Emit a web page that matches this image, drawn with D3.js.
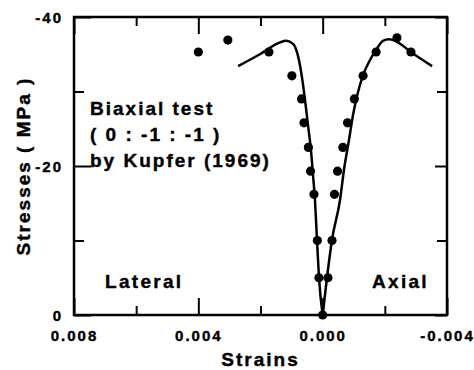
<!DOCTYPE html>
<html>
<head>
<meta charset="utf-8">
<script src="https://cdn.jsdelivr.net/npm/d3@7"></script>
<style>
  body { margin: 0; background: #fff; }
  text { font-family: "Liberation Sans", Arial, sans-serif; font-weight: bold; fill: #000; stroke: #000; stroke-width: 0.4px; }
</style>
</head>
<body>
<div id="vis"></div>
<script>
// measured points (Kupfer 1969), strain / stress in MPa
var latStrain = [0.0040, 0.00305, 0.00173, 0.00099, 0.00068, 0.00060, 0.00046, 0.00039, 0.00028, 0.00017, 0.00012, 0.0];
var latStress = [-35.3, -36.9, -35.3, -32.1, -29.0, -25.8, -22.5, -19.3, -16.2, -10.0, -5.0, 0.0];
var axStrain = [-0.00017, -0.00030, -0.00038, -0.00048, -0.00065, -0.00080, -0.00102, -0.00130, -0.00172, -0.00239, -0.00284];
var axStress = [-5.0, -10.0, -16.2, -19.3, -22.5, -25.8, -29.0, -32.1, -35.3, -37.2, -35.3];

// model curves
var latCurveStrain = [0.00272, 0.00202, 0.00137, 0.00118, 0.00102, 0.00089, 0.000762, 0.000665, 0.000569, 0.000472, 0.000376, 0.000311, 0.000247, 0.000183, 0.000118, 0.0];
var latCurveStress = [-33.4, -35.0, -36.6, -36.8, -36.6, -36.0, -34.2, -31.9, -28.9, -25.5, -22.1, -18.8, -15.4, -10.1, -5.0, 0.0];
var axCurveStrain = [0.0, -0.000139, -0.000300, -0.000557, -0.000686, -0.000847, -0.000975, -0.00110, -0.00130, -0.00152, -0.00175, -0.00194, -0.00213, -0.00233, -0.00287, -0.00352];
var axCurveStress = [0.0, -5.0, -10.1, -15.4, -19.5, -23.5, -26.8, -29.3, -32.2, -34.2, -35.8, -36.8, -37.0, -36.8, -35.2, -33.4];

var xMajor = [0.008, 0.004, 0.0, -0.004];
var xMinor = [0.006, 0.002, -0.002];
var yMajor = [0, -20, -40];
var yMinor = [-10, -30];

var W = 474, H = 370;
var pLeft = 74, pRight = 447, pTop = 17, pBottom = 315;

var svg = d3.select("#vis").append("svg")
    .attr("width", W)
    .attr("height", H);

svg.append("rect").attr("width", W).attr("height", H).attr("fill", "#fff");

var x = d3.scaleLinear().domain([0.008, -0.004]).range([pLeft, pRight]);
var y = d3.scaleLinear().domain([0, -40]).range([pBottom, pTop]);

function styleAxis(g) {
  g.attr("font-size", null).attr("font-family", null);
  g.select(".domain").remove();
  g.selectAll("line").attr("stroke", "#000").attr("stroke-width", 2);
  g.selectAll("text")
    .style("font-size", "15px")
    .style("letter-spacing", "2px")
    .attr("fill", "#000");
}

// bottom axis
svg.append("g").attr("transform", "translate(0," + pBottom + ")")
  .call(d3.axisBottom(x).tickValues(xMajor).tickSize(-17)
    .tickFormat(function(d) { return d.toFixed(3); }))
  .call(styleAxis)
  .selectAll("text").attr("dy", null).attr("y", 26);
svg.append("g").attr("transform", "translate(0," + pBottom + ")")
  .call(d3.axisBottom(x).tickValues(xMinor).tickSize(-9).tickFormat(""))
  .call(styleAxis);

// top axis
svg.append("g").attr("transform", "translate(0," + pTop + ")")
  .call(d3.axisTop(x).tickValues(xMajor).tickSize(-17).tickFormat(""))
  .call(styleAxis);
svg.append("g").attr("transform", "translate(0," + pTop + ")")
  .call(d3.axisTop(x).tickValues(xMinor).tickSize(-9).tickFormat(""))
  .call(styleAxis);

// left axis
svg.append("g").attr("transform", "translate(" + pLeft + ",0)")
  .call(d3.axisLeft(y).tickValues(yMajor).tickSize(-17)
    .tickFormat(function(d) { return String(d); }))
  .call(styleAxis)
  .selectAll("text").attr("x", -11).attr("dy", "0.36em");
svg.append("g").attr("transform", "translate(" + pLeft + ",0)")
  .call(d3.axisLeft(y).tickValues(yMinor).tickSize(-10).tickFormat(""))
  .call(styleAxis);

// right axis
svg.append("g").attr("transform", "translate(" + pRight + ",0)")
  .call(d3.axisRight(y).tickValues(yMajor).tickSize(-12).tickFormat(""))
  .call(styleAxis);
svg.append("g").attr("transform", "translate(" + pRight + ",0)")
  .call(d3.axisRight(y).tickValues(yMinor).tickSize(-10).tickFormat(""))
  .call(styleAxis);

// frame
svg.append("rect")
  .attr("x", pLeft).attr("y", pTop)
  .attr("width", pRight - pLeft).attr("height", pBottom - pTop)
  .attr("fill", "none").attr("stroke", "#000").attr("stroke-width", 2.5);

// curves
var line = d3.line()
  .x(function(d) { return x(d[0]); })
  .y(function(d) { return y(d[1]); })
  .curve(d3.curveMonotoneX);

[[latCurveStrain, latCurveStress], [axCurveStrain, axCurveStress]].forEach(function(c) {
  svg.append("path")
    .datum(d3.zip(c[0], c[1]))
    .attr("d", line)
    .attr("fill", "none")
    .attr("stroke", "#000")
    .attr("stroke-width", 2.5);
});

// points
var pts = d3.zip(latStrain, latStress).concat(d3.zip(axStrain, axStress));
svg.selectAll(".pt")
  .data(pts).enter()
  .append("circle")
  .attr("class", "pt")
  .attr("cx", function(d) { return x(d[0]); })
  .attr("cy", function(d) { return y(d[1]); })
  .attr("r", 4.6)
  .attr("fill", "#000");

// labels
svg.append("text")
  .attr("x", (pLeft + pRight) / 2).attr("y", 366)
  .attr("text-anchor", "middle")
  .style("font-size", "19px").style("letter-spacing", "2px")
  .text("Strains");

svg.append("text")
  .attr("transform", "translate(30," + ((pTop + pBottom) / 2) + ") rotate(-90)")
  .attr("text-anchor", "middle")
  .style("font-size", "19px").style("letter-spacing", "2px")
  .text("Stresses ( MPa )");

var note = ["Biaxial test", "( 0 : -1 : -1 )", "by Kupfer (1969)"];
svg.selectAll(".note")
  .data(note).enter()
  .append("text")
  .attr("class", "note")
  .attr("x", 90)
  .attr("y", function(d, i) { return 115 + i * 26; })
  .style("font-size", "19px").style("letter-spacing", "2px")
  .text(function(d) { return d; });

svg.append("text").attr("x", 105).attr("y", 288)
  .style("font-size", "19px").style("letter-spacing", "2.3px")
  .text("Lateral");
svg.append("text").attr("x", 372).attr("y", 288)
  .style("font-size", "19px").style("letter-spacing", "2.3px")
  .text("Axial");
</script>
</body>
</html>
